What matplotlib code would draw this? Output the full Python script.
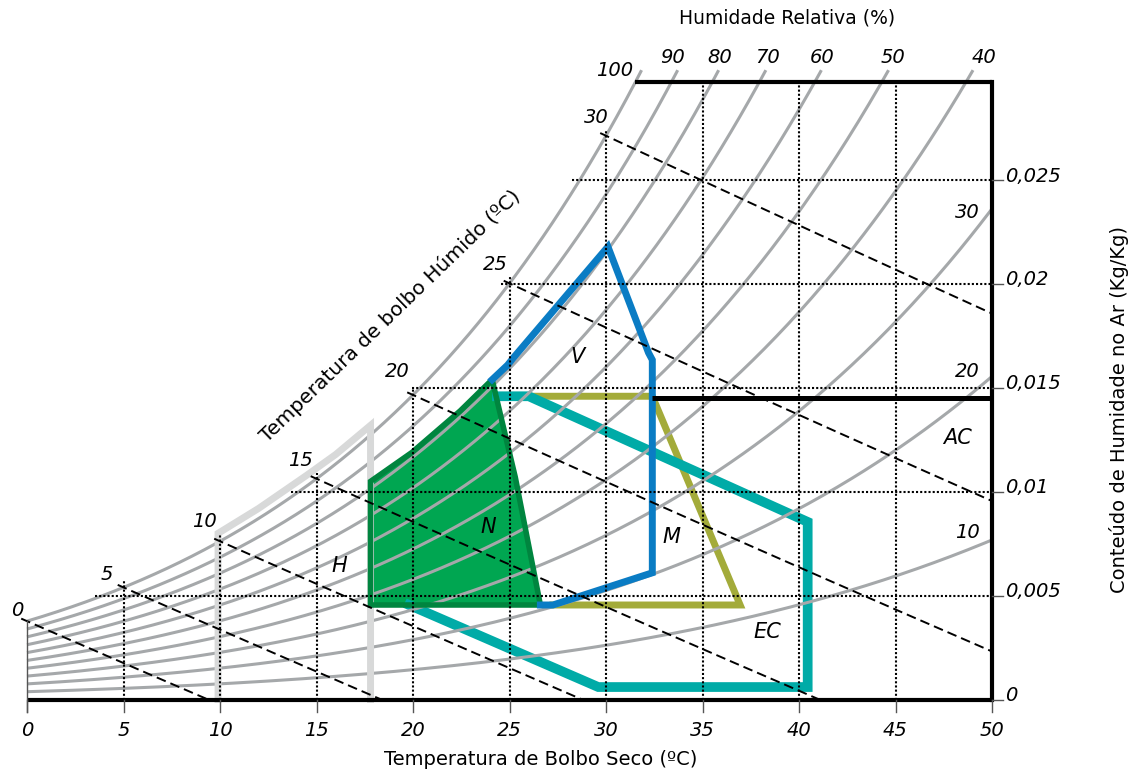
import numpy as np
import matplotlib.pyplot as plt

# chart values
rh_levels = [100, 90, 80, 70, 60, 50, 40, 30, 20, 10]
wet_bulb_temps = [0, 5, 10, 15, 20, 25, 30]
temp_ticks = [0, 5, 10, 15, 20, 25, 30, 35, 40, 45, 50]
hum_ticks = [0, 0.005, 0.01, 0.015, 0.02, 0.025]
hum_tick_labels = ['0', '0,005', '0,01', '0,015', '0,02', '0,025']

# zones (dry bulb C, humidity kg/kg)
zone_h_t = [9.9, 9.9, 12.0, 14.5, 16.0, 17.8, 17.8]
zone_h_w = [0, 0.0080, 0.0092, 0.0108, 0.0118, 0.0132, 0]
zone_n_t = [17.8, 17.8, 19.95, 22.45, 24.1, 25.3, 26.6]
zone_n_w = [0.00455, 0.0105, 0.0119, 0.0139, 0.0154, 0.0107, 0.00455]
zone_v_t = [24.1, 24.9, 25.2, 30.1, 32.2, 32.4, 32.4, 27.25, 26.6]
zone_v_w = [0.0154, 0.0161, 0.01645, 0.0218, 0.0167, 0.01635, 0.0061, 0.00455, 0.00455]
zone_m_t = [26.0, 32.4, 36.95, 27.25]
zone_m_w = [0.0146, 0.0146, 0.00455, 0.00455]
zone_ec_t = [19.8, 29.6, 40.45, 40.45, 26.0, 24.35]
zone_ec_w = [0.00455, 0.0006, 0.0006, 0.00855, 0.0146, 0.0146]
zone_ac_t = [32.4, 50]
zone_ac_w = [0.0145, 0.0145]

W_TOP = 0.02973      # top of the frame
W_CURVE = 0.0303     # where the RH curves stop
P_ATM = 101325.0


def p_sat(t):
    return 610.94 * np.exp(17.625 * t / (t + 243.04))


def w_rh(t, rh):
    pw = rh / 100.0 * p_sat(t)
    return 0.622 * pw / (P_ATM - pw)


def w_wetbulb(t, twb):
    ws = w_rh(twb, 100)
    return ((2501 - 2.326 * twb) * ws - 1.006 * (t - twb)) / (2501 + 1.86 * t - 4.186 * twb)


def t_sat(w):
    tt = np.linspace(-5, 50, 2000)
    return np.interp(w, w_rh(tt, 100), tt)


fig = plt.figure(figsize=(11.33, 7.71), dpi=100)
ax = fig.add_axes([0, 0, 1, 1])
ax.set_xlim(-27 / 19.3, (1133 - 27) / 19.3)
ax.set_ylim(-71.5 / 20770, 699.5 / 20770)
ax.axis('off')

gray = '#a5a8aa'
num_font = dict(fontsize=14, style='italic', color='black')
zone_font = dict(fontsize=15, style='italic', color='black')

# zones
ax.fill(zone_n_t, zone_n_w, color='#00a651', lw=0, zorder=1)
ax.plot(zone_m_t, zone_m_w, color='#a3ab3a', lw=5, zorder=1.6, solid_joinstyle='miter')
ax.plot(zone_ec_t, zone_ec_w, color='#00aba7', lw=7, zorder=1.7, solid_joinstyle='miter')

# relative humidity curves
for rh in rh_levels:
    tt = np.linspace(0, 50, 600)
    ww = w_rh(tt, rh)
    t_end = np.interp(W_CURVE, ww, tt) if ww[-1] > W_CURVE else 50
    tt = np.linspace(0, t_end, 400)
    ax.plot(tt, w_rh(tt, rh), color=gray, lw=2.2, zorder=2, solid_capstyle='butt')

ax.plot(zone_h_t, zone_h_w, color='#d8d9d9', lw=5, zorder=2.4, solid_joinstyle='miter')
ax.fill(zone_n_t, zone_n_w, facecolor='none', edgecolor='#00853f', lw=4, zorder=2.5,
        joinstyle='miter')
ax.plot(zone_v_t, zone_v_w, color='#0a7cc4', lw=5, zorder=2.6, solid_joinstyle='miter')
ax.plot(zone_ac_t, zone_ac_w, color='black', lw=3.6, zorder=2.6, solid_capstyle='butt')

# dotted grid
for t in temp_ticks[1:-1]:
    top = min(w_rh(t, 100) + 0.0003, W_TOP)
    ax.plot([t, t], [0, top], color='black', lw=1.5, ls=(0, (1, 1)), zorder=3)
for w in hum_ticks[1:]:
    ax.plot([t_sat(w) - 0.4, 50], [w, w], color='black', lw=1.5, ls=(0, (1, 1)), zorder=3)

# wet bulb lines
for twb in wet_bulb_temps:
    tt = np.linspace(twb - 0.3, 50, 400)
    ww = w_wetbulb(tt, twb)
    keep = ww >= 0
    ax.plot(tt[keep], ww[keep], color='black', lw=1.4, ls=(0, (5, 2.6)), zorder=3)

# frame and ticks
t_top = t_sat(W_TOP)
ax.plot([0, 50], [0, 0], color='black', lw=3, zorder=4, solid_capstyle='butt')
ax.plot([50, 50], [0, W_TOP], color='black', lw=3, zorder=4, solid_capstyle='projecting')
ax.plot([t_top, 50], [W_TOP, W_TOP], color='black', lw=3, zorder=4, solid_capstyle='butt')
ax.plot([0, 0], [-0.0006, w_rh(0, 100)], color='#555555', lw=1, zorder=4)
for t in temp_ticks:
    ax.plot([t, t], [0, -0.0006], color='#555555', lw=1, zorder=4)
for w in hum_ticks:
    ax.plot([50, 50.55], [w, w], color='#555555', lw=1, zorder=4)

# tick labels
for t in temp_ticks:
    ax.text(t, -0.0015, str(t), ha='center', va='center', **num_font)
for w, lab in zip(hum_ticks, hum_tick_labels):
    ax.text(50.7, w + 0.0002, lab, ha='left', va='center', **num_font)

# wet bulb labels
wb_pos = [(-0.5, 0.0043), (4.15, 0.0060), (9.2, 0.00855), (14.15, 0.01153),
          (19.2, 0.01577), (24.25, 0.02092), (29.5, 0.02804)]
for twb, (x, y) in zip(wet_bulb_temps, wb_pos):
    ax.text(x, y, str(twb), ha='center', va='center', **num_font)

# relative humidity labels
rh_pos = [(30.45, 0.0303), (33.45, 0.0309), (35.9, 0.0309), (38.35, 0.0309),
          (41.2, 0.0309), (44.85, 0.0309), (49.6, 0.0309),
          (48.7, 0.02347), (48.7, 0.01577), (48.75, 0.00802)]
for rh, (x, y) in zip(rh_levels, rh_pos):
    ax.text(x, y, str(rh), ha='center', va='center', **num_font)

# zone labels
for lab, x, y in [('H', 16.2, 0.00643), ('N', 23.9, 0.0083), ('V', 28.5, 0.01649),
                  ('M', 33.4, 0.00782), ('EC', 38.35, 0.00325), ('AC', 48.2, 0.01259)]:
    ax.text(x, y, lab, ha='center', va='center', **zone_font)

# titles
ax.text(39.4, 0.03281, 'Humidade Relativa (%)', ha='center', va='center', fontsize=13.5)
ax.text(26.6, -0.00291, 'Temperatura de Bolbo Seco (ºC)', ha='center', va='center', fontsize=14)
ax.text(56.6, 0.01394, 'Conteúdo de Humidade no Ar (Kg/Kg)', ha='center', va='center',
        fontsize=14, rotation=90)
ax.text(18.8, 0.01846, 'Temperatura de bolbo Húmido (ºC)', ha='center', va='center',
        fontsize=14.5, rotation=44, rotation_mode='anchor')

fig.savefig('out.png', dpi=100)
